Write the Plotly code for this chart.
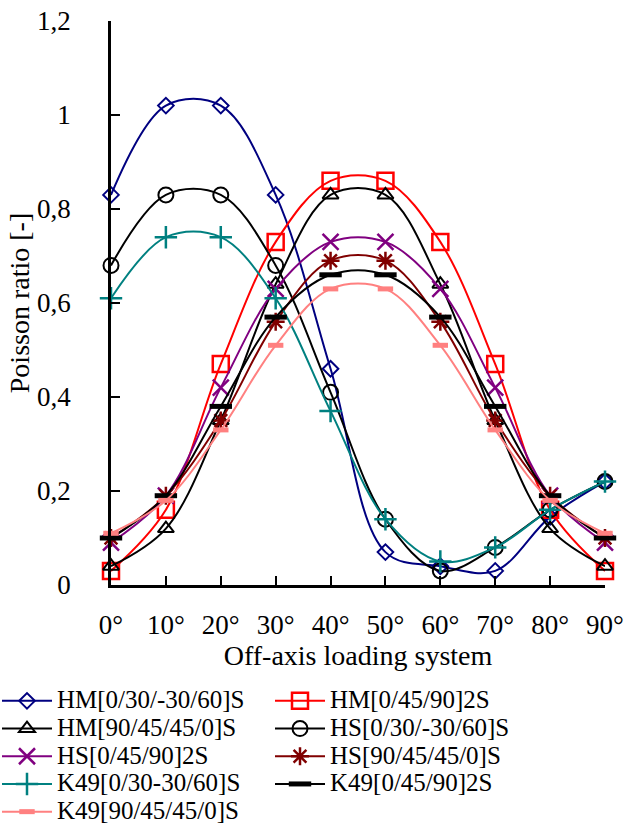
import plotly.graph_objects as go

angles = [0, 10, 20, 30, 40, 50, 60, 70, 80, 90]
angle_labels = ["0°", "10°", "20°", "30°", "40°", "50°", "60°", "70°", "80°", "90°"]

series_names = [
    "HM[0/30/-30/60]S", "HM[0/45/90]2S",
    "HM[90/45/45/0]S", "HS[0/30/-30/60]S",
    "HS[0/45/90]2S", "HS[90/45/45/0]S",
    "K49[0/30-30/60]S", "K49[0/45/90]2S",
    "K49[90/45/45/0]S",
]

hm_0_30 = [0.83, 1.02, 1.02, 0.83, 0.46, 0.07, 0.04, 0.03, 0.145, 0.22]
hm_0_45 = [0.03, 0.16, 0.47, 0.73, 0.86, 0.86, 0.73, 0.47, 0.16, 0.03]
hm_90_45 = [0.04, 0.12, 0.35, 0.64, 0.83, 0.83, 0.64, 0.35, 0.12, 0.04]
hs_0_30 = [0.68, 0.83, 0.83, 0.68, 0.41, 0.14, 0.03, 0.08, 0.16, 0.22]
hs_0_45 = [0.09, 0.19, 0.42, 0.63, 0.73, 0.73, 0.63, 0.42, 0.19, 0.09]
hs_90_45 = [0.10, 0.19, 0.35, 0.56, 0.69, 0.69, 0.56, 0.35, 0.19, 0.10]
k49_0_30 = [0.61, 0.74, 0.74, 0.61, 0.37, 0.14, 0.05, 0.08, 0.16, 0.22]
k49_0_45 = [0.10, 0.19, 0.38, 0.57, 0.66, 0.66, 0.57, 0.38, 0.19, 0.10]
k49_90_45 = [0.11, 0.18, 0.33, 0.51, 0.63, 0.63, 0.51, 0.33, 0.18, 0.11]

y_ticks = [0, 0.2, 0.4, 0.6, 0.8, 1.0, 1.2]
y_tick_labels = ["0", "0,2", "0,4", "0,6", "0,8", "1", "1,2"]

values = [hm_0_30, hm_0_45, hm_90_45, hs_0_30, hs_0_45, hs_90_45, k49_0_30, k49_0_45, k49_90_45]
colors = ["#000080", "#FF0000", "#000000", "#000000", "#800080", "#800000", "#008080", "#000000", "#FF8080"]
symbols = ["diamond-open", "square-open", "triangle-up-open", "circle-open", "x-thin-open",
           "asterisk-open", "cross-thin-open", "line-ew-open", "line-ew-open"]
sizes = [12, 16, 14, 15, 16, 15, 16, 16, 11]
mlw = [2, 2.5, 2, 2, 2.5, 2.5, 2.5, 5, 5]

fig = go.Figure()
for name, vals, c, s, sz, lw in zip(series_names, values, colors, symbols, sizes, mlw):
    fig.add_trace(go.Scatter(
        x=angles, y=vals, name='<span style="font-size:25px">' + name + "</span>",
        mode="lines+markers",
        line=dict(color=c, width=2, shape="spline", smoothing=1.0),
        marker=dict(symbol=s, size=sz, color=c, line=dict(color=c, width=lw)),
        cliponaxis=False,
    ))

W, H = 624, 825
ML, MR, MT, MB = 111, 19, 21, 240
PW, PH = W - ML - MR, H - MT - MB

font = "Liberation Serif, Times New Roman, serif"
fig.update_layout(
    width=W, height=H,
    margin=dict(l=ML, r=MR, t=MT, b=MB, autoexpand=False),
    paper_bgcolor="white", plot_bgcolor="white",
    font=dict(family=font, size=25, color="black"),
    showlegend=True,
    legend=dict(
        orientation="h", xref="paper", yref="paper",
        x=-(ML + 3) / PW, xanchor="left", y=-(682 - MT - PH) / PH, yanchor="top",
        entrywidth=208, entrywidthmode="pixels",
        font=dict(family=font, size=19, color="black"),
        itemwidth=50, tracegroupgap=0,
        bgcolor="rgba(0,0,0,0)",
    ),
    xaxis=dict(
        range=[0, 90], tickvals=angles, ticktext=angle_labels,
        ticks="inside", ticklen=9, tickwidth=2, tickcolor="black",
        showline=True, linecolor="black", linewidth=2.5,
        showgrid=False, zeroline=False, ticklabelstandoff=14,
        title=dict(text="Off-axis loading system", font=dict(size=28), standoff=0),
        tickfont=dict(size=27),
    ),
    yaxis=dict(
        range=[0, 1.2], tickvals=y_ticks, ticktext=y_tick_labels,
        ticks="inside", ticklen=9, tickwidth=2, tickcolor="black",
        showline=True, linecolor="black", linewidth=2.5,
        showgrid=False, zeroline=False, ticklabelstandoff=32,
        title=dict(text="Poisson ratio [-]", font=dict(size=28), standoff=0),
        tickfont=dict(size=27),
    ),
)

fig.write_html("out.html", config={"displayModeBar": False},
               post_script="document.body.style.margin='0';")
